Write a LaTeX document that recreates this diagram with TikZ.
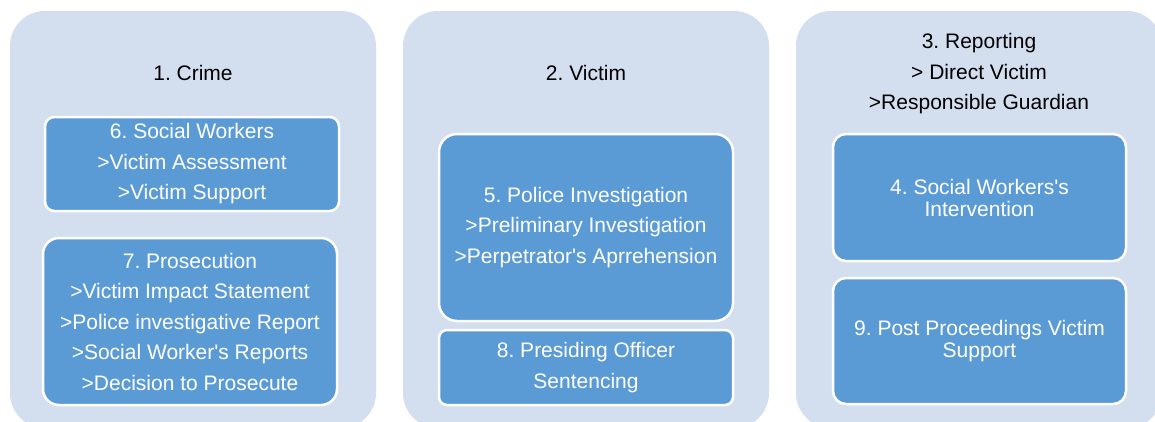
\documentclass[tikz,border=0pt]{standalone}
\usepackage{fontspec}
\setmainfont{Liberation Sans}
\frenchspacing
\definecolor{panelfill}{HTML}{D3DEEF}
\definecolor{boxfill}{HTML}{5B9BD5}
\newcommand{\apos}{\textquotesingle}
\tikzset{
  panel/.style={fill=panelfill, draw=none, rounded corners=35pt},
  head/.style={text=black, align=center, font={\fontsize{21}{30.5}\selectfont}},
  stagebox/.style={fill=boxfill, draw=white, line width=2.5pt, text=white,
    align=center, inner sep=0pt, minimum width=294pt,
    font={\fontsize{21}{30.5}\selectfont}},
  tight/.style={font={\fontsize{21}{22}\selectfont}}
}
\begin{document}
\begin{tikzpicture}[x=1pt,y=-1pt]
\path[use as bounding box] (0,0) rectangle (1155,421);
\clip (0,0) rectangle (1155,421);
\fill[white] (0,0) rectangle (1155,421);

% three stage panels
\path[panel] (10,11) rectangle (376,428);
\path[panel] (403,11) rectangle (769,428);
\path[panel] (796,11) rectangle (1162,428);

% panel headings
\node[head] (crime) at (193,73) {1. Crime};
\node[head] (victim) at (586,73) {2. Victim};
\node[head] (report) at (979,74) {3. Reporting\\> Direct Victim\\>Responsible Guardian};

% inner steps
\node[stagebox, minimum height=94pt, rounded corners=9.5pt] (social) at (192,164)
  {6. Social Workers\\>Victim Assessment\\>Victim Support};
\node[stagebox, minimum height=167pt, rounded corners=16pt] (prosec) at (190,321.5)
  {7. Prosecution\\>Victim Impact Statement\\>Police investigative Report\\>Social Worker\apos s Reports\\>Decision to Prosecute};
\node[stagebox, minimum height=187pt, rounded corners=18pt] (police) at (586,227.5)
  {5. Police Investigation\\>Preliminary Investigation\\>Perpetrator\apos s Aprrehension};
\node[stagebox, minimum height=75pt, rounded corners=8pt] (sentence) at (586,367.5)
  {8. Presiding Officer\\Sentencing};
\node[stagebox, tight, minimum width=293pt, minimum height=127pt, rounded corners=13pt] (interv) at (979.5,197.5)
  {4. Social Workers\apos s\\Intervention};
\node[stagebox, tight, minimum width=293pt, minimum height=126pt, rounded corners=13pt] (post) at (979.5,341)
  {9. Post Proceedings Victim\\Support};
\end{tikzpicture}
\end{document}
